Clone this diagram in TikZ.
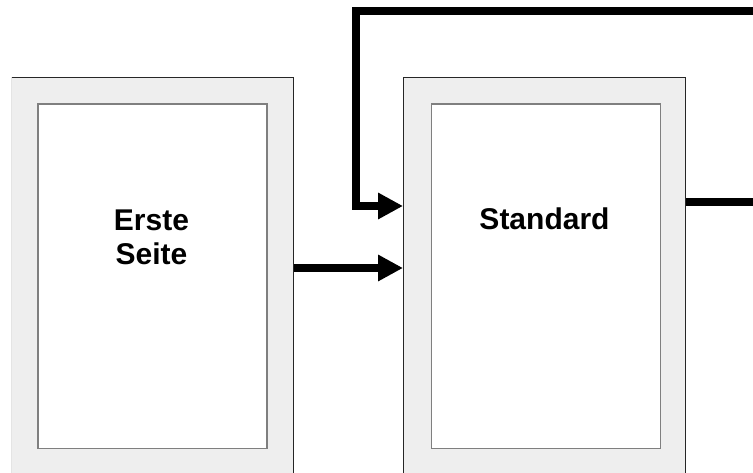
\documentclass[tikz,border=0pt]{standalone}
\usepackage{fontspec}
\setmainfont{Liberation Sans}
\usetikzlibrary{arrows.meta}

\definecolor{pagegray}{HTML}{EEEEEE}
\definecolor{bodyline}{HTML}{7F7F7F}

\begin{document}
\begin{tikzpicture}[x=1pt,y=-1pt,
    pageouter/.style={draw=black!85,line width=1pt,fill=pagegray,anchor=north west,
        minimum width=282pt,minimum height=440pt,inner sep=0pt},
    pagebody/.style={draw=bodyline,line width=1.5pt,fill=white,anchor=north west,
        minimum width=229pt,minimum height=344pt,inner sep=0pt},
    label/.style={font=\fontsize{30}{33.5}\selectfont\bfseries,align=center,
        anchor=north,inner sep=0pt},
    flow/.style={line width=8pt,line join=miter,-{Triangle[length=25pt,width=25pt]}}]

\useasboundingbox (0,0) rectangle (753,473);
\clip (11.8,0) rectangle (753,473);

\node[pageouter] (p1) at (11,77) {};
\node[pagebody] (p1b) at (37,103.5) {};
\node[pageouter] (p2) at (403,77) {};
\node[pagebody] (p2b) at (430.5,103.5) {};

\node[label] (erste) at (151.5,210) {Erste\\Seite};
\node[label] (standard) at (544.5,208) {Standard};

% ein- und ausgaenge
\path (p2.north west) ++(0,191) coordinate (inlow) ++(0,-62) coordinate (inhigh);
\path (p2.north east) ++(0,125.5) coordinate (out);
\coordinate (loopr) at (790,11.5);
\coordinate (loopl) at (355.5,11.5);

\draw[flow] (p1.east |- inlow) -- (inlow);
\draw[flow] (out) -| (loopr) -- (loopl) |- (inhigh);

\end{tikzpicture}
\end{document}
